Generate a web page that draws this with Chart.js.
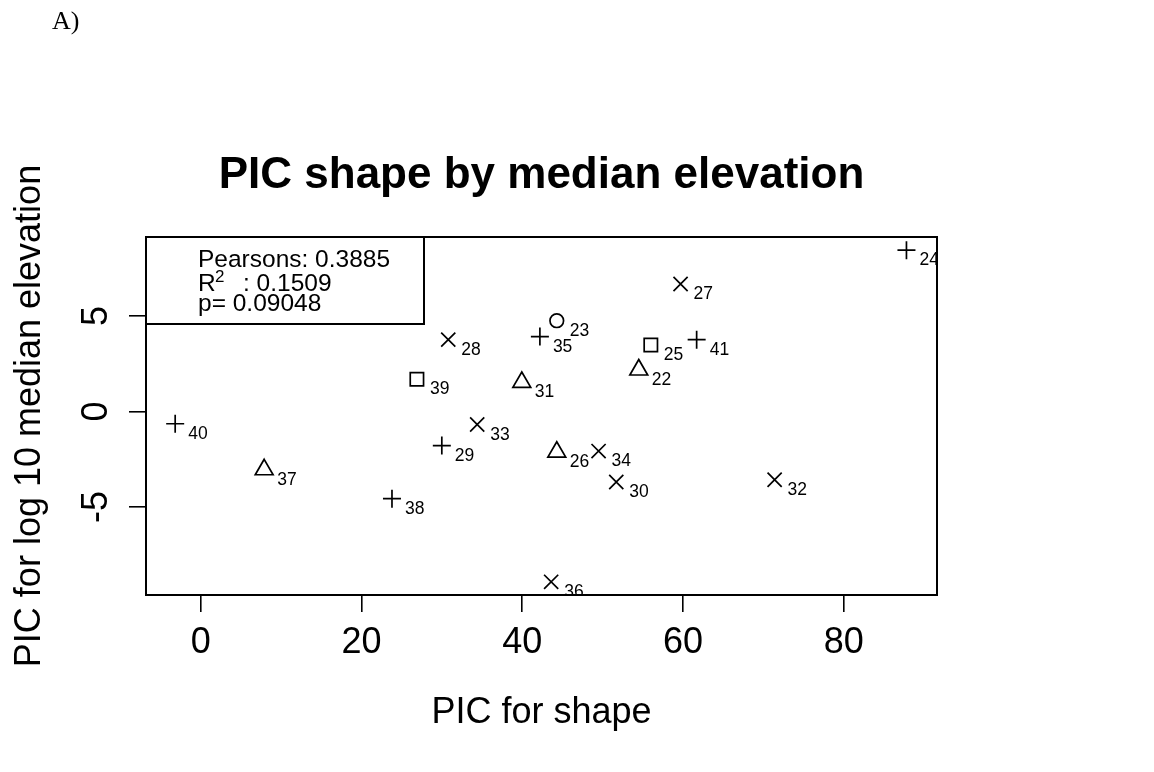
<!DOCTYPE html>
<html>
<head>
<meta charset="utf-8">
<title>PIC shape by median elevation</title>
<script src="https://cdn.jsdelivr.net/npm/chart.js@4.4.1/dist/chart.umd.min.js"></script>
<style>
    html, body { margin: 0; padding: 0; background: #fff; }
    #wrap { width: 1154px; height: 772px; }
</style>
</head>
<body>
<div id="wrap"><canvas id="chart" width="1154" height="772"></canvas></div>
<script>
        // Point ids (printed next to each point) and PIC values
        const pointIds   = ['22', '23', '24', '25', '26', '27', '28', '29', '30', '31',
                            '32', '33', '34', '35', '36', '37', '38', '39', '40', '41'];
        const picShape   = [54.5, 44.3, 87.8, 56.0, 44.3, 59.7, 30.8, 30.0, 51.7, 39.95,
                            71.4, 34.4, 49.5, 42.2, 43.6, 7.9, 23.8, 26.9, -3.17, 61.7];
        const picElev    = [2.18, 4.75, 8.44, 3.48, -2.12, 6.67, 3.76, -1.78, -3.69, 1.53,
                            -3.57, -0.68, -2.07, 3.92, -8.91, -3.04, -4.56, 1.69, -0.64, 3.76];
        // R plotting symbol used for each point (0 square, 1 circle, 2 triangle, 3 plus, 4 cross)
        const pointPch   = [2, 1, 3, 0, 2, 4, 4, 3, 4, 2,
                            4, 4, 4, 3, 4, 2, 3, 0, 3, 3];

        const xTicks = [0, 20, 40, 60, 80];
        const yTicks = [-5, 0, 5];

        const pearsons = '0.3885';
        const rSquared = '0.1509';
        const pValue   = '0.09048';

        const FONT = '"Liberation Sans", Arial, Helvetica, sans-serif';

        // pch -> chart.js point style + radius that gives about the same size as R
        const pchStyle  = { 0: 'rect', 1: 'circle', 2: 'triangle', 3: 'cross', 4: 'crossRot' };
        const pchRadius = { 0: 9.4, 1: 6.8, 2: 10.3, 3: 9, 4: 10 };

        const points = picShape.map((x, i) => ({ x: x, y: picElev[i] }));

        // Box, titles, legend and point labels, R style
        const decorations = {
            id: 'decorations',
            afterDatasetsDraw(chart) {
                const ctx = chart.ctx;
                const area = chart.chartArea;
                const meta = chart.getDatasetMeta(0);

                // labels next to the points, clipped to the plot region like R does
                ctx.save();
                ctx.beginPath();
                ctx.rect(area.left, area.top, area.right - area.left, area.bottom - area.top);
                ctx.clip();
                ctx.fillStyle = '#000';
                ctx.font = '17.5px ' + FONT;
                ctx.textAlign = 'left';
                ctx.textBaseline = 'alphabetic';
                meta.data.forEach((el, i) => {
                    ctx.fillText(pointIds[i], el.x + 13, el.y + 15);
                });
                ctx.restore();
            },
            afterDraw(chart) {
                const ctx = chart.ctx;
                const area = chart.chartArea;
                const midX = (area.left + area.right) / 2;
                const midY = (area.top + area.bottom) / 2;

                ctx.save();
                ctx.strokeStyle = '#000';
                ctx.fillStyle = '#000';

                // plot box
                ctx.lineWidth = 2;
                ctx.strokeRect(area.left, area.top, area.right - area.left, area.bottom - area.top);

                // legend box with the correlation stats
                const lx = area.left, ly = area.top;
                ctx.fillStyle = '#fff';
                ctx.fillRect(lx, ly, 278, 87);
                ctx.strokeRect(lx, ly, 278, 87);
                ctx.fillStyle = '#000';
                ctx.textAlign = 'left';
                ctx.textBaseline = 'alphabetic';
                ctx.font = '24.5px ' + FONT;
                ctx.fillText('Pearsons: ' + pearsons, lx + 52, ly + 30);
                ctx.fillText('R', lx + 52, ly + 54);
                ctx.font = '17px ' + FONT;
                ctx.fillText('2', lx + 69, ly + 45);
                ctx.font = '24.5px ' + FONT;
                ctx.fillText(': ' + rSquared, lx + 97, ly + 54);
                ctx.fillText('p= ' + pValue, lx + 52, ly + 74);

                // main title
                ctx.textAlign = 'center';
                ctx.font = 'bold 44px ' + FONT;
                ctx.fillText('PIC shape by median elevation', midX, 188);

                // axis titles
                ctx.font = '36px ' + FONT;
                ctx.fillText('PIC for shape', midX, 723);
                ctx.save();
                ctx.translate(40, midY);
                ctx.rotate(-Math.PI / 2);
                ctx.fillText('PIC for log 10 median elevation', 0, 0);
                ctx.restore();

                // panel tag
                ctx.textAlign = 'left';
                ctx.font = '26px "Liberation Serif", "Times New Roman", serif';
                ctx.fillText('A)', 52, 29);

                ctx.restore();
            }
        };

        const tickGrid = {
            drawOnChartArea: false,
            drawTicks: true,
            tickLength: 17,
            color: '#000',
            lineWidth: 1.6
        };

        const chart = new Chart(document.getElementById('chart').getContext('2d'), {
            type: 'scatter',
            data: {
                datasets: [{
                    data: points,
                    pointStyle: ctx => pchStyle[pointPch[ctx.dataIndex]],
                    pointRadius: ctx => pchRadius[pointPch[ctx.dataIndex]],
                    pointHoverRadius: ctx => pchRadius[pointPch[ctx.dataIndex]],
                    borderColor: '#000',
                    backgroundColor: 'rgba(0,0,0,0)',
                    borderWidth: 1.7,
                    clip: false
                }]
            },
            options: {
                responsive: false,
                animation: false,
                devicePixelRatio: 1,
                layout: {
                    autoPadding: false,
                    padding: { left: 0, top: 237, right: 217, bottom: 77 }
                },
                plugins: {
                    legend: { display: false },
                    tooltip: { enabled: false }
                },
                scales: {
                    x: {
                        type: 'linear',
                        min: -6.8,
                        max: 91.6,
                        afterBuildTicks: s => { s.ticks = xTicks.map(v => ({ value: v })); },
                        afterFit: s => { s.height = 100; },
                        grid: tickGrid,
                        border: { display: false },
                        ticks: {
                            color: '#000',
                            font: { family: FONT, size: 36 },
                            maxRotation: 0,
                            padding: 9
                        }
                    },
                    y: {
                        type: 'linear',
                        min: -9.6,
                        max: 9.13,
                        afterBuildTicks: s => { s.ticks = yTicks.map(v => ({ value: v })); },
                        afterFit: s => { s.width = 146; },
                        grid: tickGrid,
                        border: { display: false },
                        ticks: {
                            color: '#000',
                            font: { family: FONT, size: 36 },
                            minRotation: 90,
                            maxRotation: 90,
                            crossAlign: 'center',
                            padding: 16
                        }
                    }
                }
            },
            plugins: [decorations]
        });
</script>
</body>
</html>
